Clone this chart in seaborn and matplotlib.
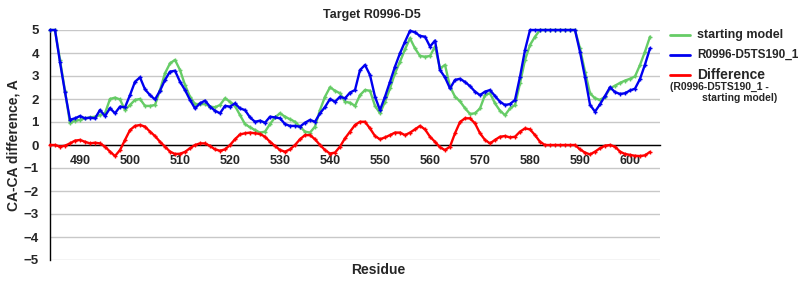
import matplotlib
matplotlib.use("Agg")
import matplotlib.pyplot as plt
import pandas as pd
import seaborn as sns
from matplotlib.lines import Line2D

residues = list(range(484, 605))

starting_model = [
    5.0, 5.0, 3.7, 2.35, 0.95, 1.06, 1.09, 1.16, 1.2, 1.23,          # 484-493
    1.3, 1.38, 2.0, 2.06, 1.98, 1.52, 1.74, 1.96, 2.0, 1.7,          # 494-503
    1.7, 1.74, 2.39, 3.12, 3.55, 3.7, 3.26, 2.61, 2.1, 1.78,         # 504-513
    1.78, 1.78, 1.67, 1.64, 1.74, 2.03, 1.88, 1.7, 1.3, 0.91,        # 514-523
    0.77, 0.65, 0.54, 0.58, 0.91, 1.2, 1.38, 1.23, 1.12, 1.01,       # 524-533
    0.8, 0.58, 0.54, 0.8, 1.52, 2.1, 2.51, 2.36, 2.25, 1.88,         # 534-543
    1.84, 1.7, 2.17, 2.39, 2.36, 1.7, 1.38, 1.88, 2.46, 3.12,        # 544-553
    3.62, 4.16, 4.64, 4.2, 3.87, 3.84, 3.87, 4.28, 3.33, 3.48,       # 554-563
    2.54, 2.1, 1.9, 1.6, 1.35, 1.38, 1.59, 2.17, 2.25, 1.81,         # 564-573
    1.49, 1.3, 1.59, 1.74, 2.68, 3.7, 4.35, 4.71, 5.0, 5.0,          # 574-583
    5.0, 5.0, 5.0, 5.0, 5.0, 5.0, 4.2, 3.19, 2.25, 2.03,             # 584-593
    1.96, 2.1, 2.46, 2.58, 2.7, 2.8, 2.88, 2.98, 3.48, 4.06,         # 594-603
    4.71,                                                            # 604
]

model_ts190 = [
    5.0, 5.0, 3.6, 2.3, 1.1, 1.16, 1.26, 1.16, 1.19, 1.16,           # 484-493
    1.52, 1.26, 1.6, 1.38, 1.67, 1.64, 2.17, 2.75, 2.94, 2.42,       # 494-503
    2.17, 1.98, 2.36, 2.83, 3.19, 3.23, 2.75, 2.39, 1.96, 1.59,      # 504-513
    1.81, 1.93, 1.67, 1.49, 1.38, 1.7, 1.67, 1.81, 1.59, 1.52,       # 514-523
    1.2, 1.01, 1.06, 0.97, 1.23, 1.2, 1.16, 0.91, 0.83, 0.83,        # 524-533
    0.8, 0.97, 1.09, 1.01, 1.38, 1.65, 2.0, 1.88, 2.1, 2.03,         # 534-543
    2.28, 2.39, 3.26, 3.48, 3.04, 2.1, 1.52, 2.1, 2.75, 3.41,        # 544-553
    3.99, 4.49, 4.97, 4.9, 4.74, 4.71, 4.28, 4.54, 3.26, 2.94,       # 554-563
    2.46, 2.83, 2.88, 2.74, 2.56, 2.32, 2.17, 2.32, 2.39, 2.13,      # 564-573
    1.88, 1.74, 1.78, 1.96, 2.97, 4.13, 5.0, 5.0, 5.0, 5.0,          # 574-583
    5.0, 5.0, 5.0, 5.0, 5.0, 5.0, 4.05, 2.95, 1.75, 1.45,            # 584-593
    1.77, 2.13, 2.51, 2.3, 2.22, 2.25, 2.37, 2.45, 2.87, 3.5,        # 594-603
    4.2,                                                             # 604
]

difference = [
    0.0, 0.0, -0.07, -0.03, 0.07, 0.19, 0.22, 0.14, 0.07, 0.1,       # 484-493
    0.07, -0.07, -0.29, -0.48, -0.22, 0.22, 0.65, 0.83, 0.87, 0.8,   # 494-503
    0.58, 0.39, 0.14, -0.07, -0.29, -0.39, -0.38, -0.3, -0.14, 0.0,  # 504-513
    0.07, 0.07, -0.04, -0.19, -0.25, -0.19, 0.0, 0.25, 0.46, 0.51,   # 514-523
    0.54, 0.51, 0.48, 0.36, 0.14, -0.04, -0.22, -0.29, -0.19, 0.0,   # 524-533
    0.25, 0.43, 0.43, 0.25, 0.0, -0.22, -0.37, -0.33, -0.07, 0.29,   # 534-543
    0.58, 0.87, 1.01, 1.01, 0.72, 0.39, 0.25, 0.33, 0.43, 0.54,      # 544-553
    0.54, 0.43, 0.54, 0.68, 0.83, 0.68, 0.36, 0.14, -0.1, -0.22,     # 554-563
    -0.07, 0.51, 1.0, 1.16, 1.16, 0.94, 0.51, 0.22, 0.07, 0.22,      # 564-573
    0.36, 0.39, 0.33, 0.36, 0.58, 0.72, 0.68, 0.43, 0.14, 0.0,       # 574-583
    0.0, 0.0, 0.0, 0.0, 0.0, 0.0, -0.19, -0.33, -0.41, -0.29,        # 584-593
    -0.14, -0.03, 0.0, -0.07, -0.29, -0.39, -0.43, -0.47, -0.48, -0.45,  # 594-603
    -0.3,                                                            # 604
]

series_names = ["starting model", "R0996-D5TS190_1", "Difference"]
series_colors = ["#66CC66", "#0000F0", "#FF0000"]
x_ticks = list(range(490, 601, 10))
y_ticks = list(range(-5, 6))

df = pd.concat([
    pd.DataFrame({"residue": residues, "value": vals, "series": name})
    for name, vals in zip(series_names, [starting_model, model_ts190, difference])
])

sns.set_style("white")
plt.rcParams["font.family"] = ["Liberation Sans", "DejaVu Sans"]
plt.rcParams["font.weight"] = "bold"
plt.rcParams["axes.unicode_minus"] = True

fig = plt.figure(figsize=(8, 3), dpi=100)
W, H = 800, 300
ax = fig.add_axes([50 / W, 1 - 260 / H, 610 / W, 230 / H])

for name, col in zip(series_names, series_colors):
    sub = df[df["series"] == name]
    sns.lineplot(data=sub, x="residue", y="value", color=col, lw=1.7,
                 marker="+", markersize=3.5, markeredgewidth=1.0,
                 markeredgecolor=col, markerfacecolor=col,
                 ax=ax, legend=False, clip_on=False, zorder=3)

ax.set_xlim(484, 606)
ax.set_ylim(-5, 5)
ax.set_yticks(y_ticks)
ax.set_xticks(x_ticks)
ax.yaxis.grid(True, color="#C8C8C8", lw=1)
ax.xaxis.grid(False)
ax.set_axisbelow(True)

for s in ["top", "right"]:
    ax.spines[s].set_visible(False)
ax.spines["bottom"].set_position(("data", 0))
ax.spines["bottom"].set_color("black")
ax.spines["bottom"].set_linewidth(1)
ax.spines["bottom"].set_zorder(2)
ax.spines["left"].set_color("black")
ax.spines["left"].set_linewidth(1)

ax.tick_params(axis="x", direction="out", length=5, width=1, color="#AAAAAA",
               pad=2, labelsize=9)
ax.tick_params(axis="y", length=0, pad=8, labelsize=9.5)
for lab in ax.get_xticklabels() + ax.get_yticklabels():
    lab.set_fontweight("bold")

ax.set_xlabel("")
ax.set_ylabel("")

fig.text(372 / W, 1 - 15 / H, "Target R0996-D5", ha="center", va="center",
         fontsize=9, fontweight="bold")
fig.text(378 / W, 1 - 270 / H, "Residue", ha="center", va="center",
         fontsize=10, fontweight="bold")
fig.text(14 / W, 1 - 145 / H, "CA-CA difference, A", ha="center", va="center",
         rotation=90, fontsize=10, fontweight="bold")

# legend
legend_y = [35, 55, 75]
legend_sizes = [9, 8.5, 10]
for name, col, yy, fs in zip(series_names, series_colors, legend_y, legend_sizes):
    fig.add_artist(Line2D([670 / W, 690 / W], [1 - yy / H, 1 - yy / H],
                          transform=fig.transFigure, color=col, lw=2))
    fig.text(697 / W, 1 - yy / H, name, ha="left", va="center",
             fontsize=fs, fontweight="bold")
fig.text(670 / W, 1 - 87 / H, "(R0996-D5TS190_1 -", ha="left", va="center",
         fontsize=7.5, fontweight="bold")
fig.text(702 / W, 1 - 98 / H, "starting model)", ha="left", va="center",
         fontsize=7.5, fontweight="bold")

fig.savefig("out.png", dpi=100, facecolor="white")
